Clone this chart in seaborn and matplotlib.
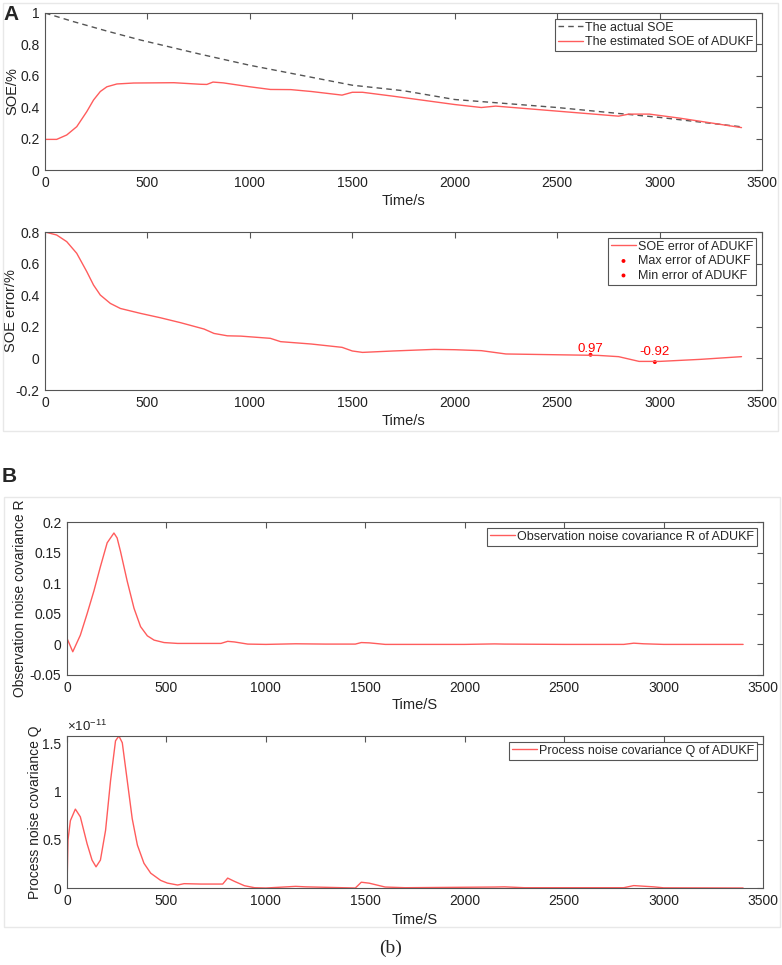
import numpy as np
import pandas as pd
import seaborn as sns
import matplotlib.pyplot as plt
from matplotlib.patches import Rectangle
from matplotlib.ticker import FuncFormatter

# ---- panel A (top): SOE
t_true = [0, 139, 302, 466, 760, 1000, 1500, 1750, 2000, 2500, 3000, 3400]
soe_true = [1.0, 0.945, 0.885, 0.828, 0.737, 0.667, 0.54, 0.505, 0.449, 0.398, 0.335, 0.275]

t_est = [0, 57, 106, 155, 204, 237, 270, 302, 351, 433, 629, 760, 790, 820, 870, 1000, 1100,
         1200, 1300, 1450, 1500, 1550, 1700, 2000, 2130, 2200, 2500, 2800, 2850, 2950, 3100,
         3250, 3400]
soe_est = [0.195, 0.195, 0.223, 0.276, 0.372, 0.446, 0.5, 0.53, 0.548, 0.554, 0.556, 0.546,
           0.545, 0.56, 0.555, 0.53, 0.513, 0.512, 0.5, 0.477, 0.495, 0.495, 0.47, 0.417,
           0.398, 0.407, 0.375, 0.343, 0.356, 0.356, 0.33, 0.30, 0.27]

# ---- panel A (bottom): SOE error
t_err = [0, 57, 106, 155, 204, 237, 270, 319, 368, 466, 564, 662, 776, 825, 890, 956, 1100,
         1150, 1300, 1450, 1500, 1550, 1700, 1900, 2000, 2130, 2250, 2500, 2700, 2800, 2900,
         3000, 3200, 3400]
soe_err = [0.8, 0.781, 0.739, 0.665, 0.549, 0.464, 0.401, 0.348, 0.316, 0.285, 0.257, 0.226,
           0.186, 0.158, 0.143, 0.141, 0.127, 0.106, 0.091, 0.07, 0.047, 0.038, 0.047, 0.057,
           0.055, 0.049, 0.028, 0.023, 0.019, 0.011, -0.019, -0.019, -0.006, 0.011]
max_t, max_v, max_lab = 2663, 0.023, "0.97"
min_t, min_v, min_lab = 2977, -0.023, "-0.92"

# ---- panel B (top): observation noise covariance R
t_r = [0, 29, 67, 101, 135, 168, 202, 219, 236, 252, 269, 303, 337, 370, 404, 438, 488, 556,
       774, 808, 842, 909, 1000, 1150, 1300, 1450, 1480, 1520, 1600, 2000, 2150, 2200, 2500,
       2800, 2850, 2900, 3000, 3400]
r_vals = [0.01, -0.012, 0.015, 0.05, 0.087, 0.127, 0.166, 0.174, 0.182, 0.174, 0.152, 0.103,
          0.059, 0.029, 0.014, 0.007, 0.003, 0.0016, 0.0016, 0.005, 0.004, 0.0005, 0.0, 0.001,
          0.0005, 0.0005, 0.003, 0.0025, 0.0, 0.0, 0.0008, 0.0005, 0.0, 0.0, 0.002, 0.001, 0.0, 0.0]

# ---- panel B (bottom): process noise covariance Q (x1e-11)
t_q = [0, 5, 17, 42, 67, 101, 126, 146, 168, 194, 219, 244, 261, 278, 303, 328, 354, 387, 421,
       471, 505, 556, 589, 673, 783, 808, 842, 892, 943, 1000, 1150, 1200, 1450, 1480, 1520,
       1600, 1700, 2150, 2200, 2300, 2800, 2850, 2950, 3000, 3400]
q_vals = np.array([0, 0.5, 0.7, 0.82, 0.74, 0.46, 0.29, 0.22, 0.29, 0.6, 1.116, 1.53, 1.58,
                   1.51, 1.116, 0.72, 0.446, 0.257, 0.154, 0.079, 0.051, 0.031, 0.045, 0.041,
                   0.041, 0.103, 0.069, 0.024, 0.003, 0.0, 0.017, 0.012, 0.0, 0.06, 0.05, 0.01,
                   0.003, 0.01, 0.012, 0.003, 0.003, 0.025, 0.012, 0.002, 0.0]) * 1e-11

RED = "#ff5c5c"
AX = "#555555"
TXT = "#222222"

sns.set_style("white")
plt.rcParams["font.family"] = ["Liberation Sans", "DejaVu Sans"]
plt.rcParams["axes.unicode_minus"] = False
plt.rcParams["mathtext.fontset"] = "custom"
plt.rcParams["mathtext.rm"] = "Liberation Sans"
plt.rcParams["mathtext.it"] = "Liberation Sans"

fig = plt.figure(figsize=(7.82, 9.65), dpi=100)
W, H = 782, 965


def px_axes(left, top, right, bottom):
    return fig.add_axes([left / W, 1 - bottom / H, (right - left) / W, (bottom - top) / H])


def style(ax, ylim, yticks, xlabel, ylabel, ylab_x, xlab_y=-0.15, scale=1.0, ysize=10.5):
    ax.set_xlim(0, 3500)
    ax.set_xticks(range(0, 3501, 500))
    ax.set_ylim(*ylim)
    ax.set_yticks(yticks)
    ax.yaxis.set_major_formatter(FuncFormatter(lambda v, p: f"{round(v / scale, 6):g}"))
    ax.tick_params(direction="in", top=True, right=True, length=4, width=0.8,
                   color=AX, labelsize=10, labelcolor=TXT, pad=4)
    for s in ax.spines.values():
        s.set_color(AX)
        s.set_linewidth(0.8)
    ax.set_xlabel(xlabel, fontsize=10.5, color=TXT)
    ax.set_ylabel(ylabel, fontsize=ysize, color=TXT)
    ax.yaxis.set_label_coords(ylab_x, 0.5)
    ax.xaxis.set_label_coords(0.5, xlab_y)


def legend(ax):
    lg = ax.legend(loc="upper right", frameon=True, fancybox=False, edgecolor=AX,
                   framealpha=1, fontsize=9, handlelength=2.0, handletextpad=0.15,
                   borderpad=0.25, labelspacing=0.2, borderaxespad=0.45)
    lg.get_frame().set_linewidth(0.8)


# panel frames
fig.patches.append(Rectangle((3 / W, 1 - 431 / H), 775 / W, 428 / H, transform=fig.transFigure,
                             fill=False, edgecolor="#e8e8e8", lw=1))
fig.patches.append(Rectangle((4 / W, 1 - 927 / H), 776 / W, 430 / H, transform=fig.transFigure,
                             fill=False, edgecolor="#e8e8e8", lw=1))

# A top
ax1 = px_axes(45, 13, 762, 170)
sns.lineplot(x=t_true, y=soe_true, ax=ax1, color="#555555", lw=1,
             linestyle=(0, (4, 3)), label="The actual SOE")
sns.lineplot(x=t_est, y=soe_est, ax=ax1, color=RED, lw=1,
             label="The estimated SOE of ADUKF")
style(ax1, (0, 1), [0, 0.2, 0.4, 0.6, 0.8, 1], "Time/s", "SOE/%", -0.036)
legend(ax1)

# A bottom
ax2 = px_axes(45, 232, 762, 390)
sns.lineplot(x=t_err, y=soe_err, ax=ax2, color=RED, lw=1, label="SOE error of ADUKF")
sns.scatterplot(x=[max_t], y=[max_v], ax=ax2, color="red", s=8, edgecolor="none",
                label="Max error of ADUKF")
sns.scatterplot(x=[min_t], y=[min_v], ax=ax2, color="red", s=8, edgecolor="none",
                label="Min error of ADUKF")
ax2.annotate(max_lab, (max_t, max_v), xytext=(0, 0), textcoords="offset points",
             ha="center", va="bottom", color="red", fontsize=9.5)
ax2.annotate(min_lab, (min_t, min_v), xytext=(0, 3), textcoords="offset points",
             ha="center", va="bottom", color="red", fontsize=9.5)
style(ax2, (-0.2, 0.8), [-0.2, 0, 0.2, 0.4, 0.6, 0.8], "Time/s", "SOE error/%", -0.037)
legend(ax2)

# B top
ax3 = px_axes(67, 522, 763, 675)
sns.lineplot(x=t_r, y=r_vals, ax=ax3, color=RED, lw=1,
             label="Observation noise covariance R of ADUKF")
style(ax3, (-0.05, 0.2), [-0.05, 0, 0.05, 0.1, 0.15, 0.2], "Time/S",
      "Observation noise covariance R", -0.0575, ysize=10)
legend(ax3)

# B bottom
ax4 = px_axes(67, 736, 763, 888)
sns.lineplot(x=t_q, y=q_vals, ax=ax4, color=RED, lw=1,
             label="Process noise covariance Q of ADUKF")
style(ax4, (0, 1.58e-11), [0, 0.5e-11, 1e-11, 1.5e-11], "Time/S",
      "Process noise covariance Q", -0.036, xlab_y=-0.165, scale=1e-11, ysize=10)
ax4.text(0.0, 1.015, r"×10$^{-11}$", transform=ax4.transAxes, fontsize=9.5,
         color=TXT, ha="left", va="bottom")
legend(ax4)

fig.text(3 / W, 1 - 20 / H, "A", fontsize=15, weight="bold", va="baseline")
fig.text(2 / W, 1 - 482 / H, "B", fontsize=15, weight="bold", va="baseline")
fig.text(391 / W, 1 - 948 / H, "(b)", fontsize=14, ha="center", va="center",
         family=["Liberation Serif", "DejaVu Serif"])

fig.savefig("out.png", dpi=100)
